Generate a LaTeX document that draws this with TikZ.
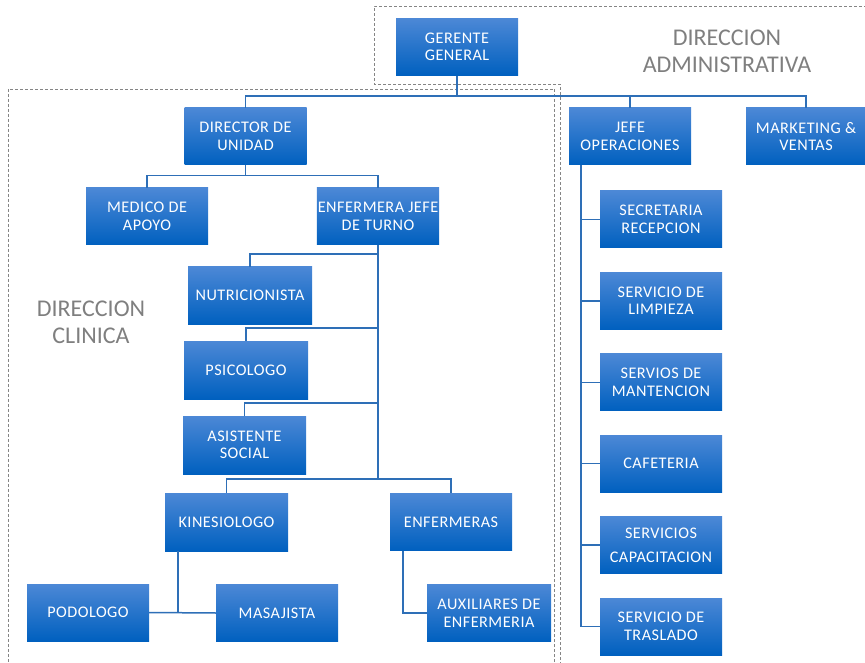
\documentclass[tikz,border=0pt]{standalone}
\usepackage{fontspec}
\setmainfont{Carlito}
\newfontfamily\boxfont[LetterSpace=3]{Carlito}
\usetikzlibrary{positioning, calc}
\definecolor{ctop}{HTML}{4C88D6}
\definecolor{cbot}{HTML}{0060BF}
\definecolor{cline}{HTML}{2E6FB7}
\definecolor{cgrey}{HTML}{7F7F7F}
\definecolor{cdash}{HTML}{858585}
\tikzset{
  every picture/.style={x=1pt, y=-1pt},
  box/.style={top color=ctop, bottom color=cbot, text=white, align=center, inner sep=1pt,
    minimum width=122pt, minimum height=57pt, font=\boxfont\fontsize{16.2}{17.5}\selectfont},
  link/.style={draw=cline, line width=1.5pt},
  area/.style={draw=cdash, line width=0.9pt, dash pattern=on 3pt off 2pt},
  title/.style={text=cgrey, align=center, font=\fontsize{24}{27}\selectfont},
}

\begin{document}
\begin{tikzpicture}
  \useasboundingbox (0,0) rectangle (865,663);
  \clip (0,0) rectangle (865,663);
  % dashed areas
  \draw[area] (8.5,89) rectangle (554.5,680);
  \draw[area] (560,680) -- (560,84) -- (374,84) -- (374,6) -- (880,6);

  \node[box] (ger) at (457,47) {GERENTE\\GENERAL};
  \node[title] (admin) at (727,51) {DIRECCION\\ADMINISTRATIVA};
  \node[box] (dir) at (245.5,136.5) {DIRECTOR DE\\UNIDAD};
  \node[box] (jefe) at (630,136.5) {JEFE\\OPERACIONES};
  \node[box, minimum width=120pt] (mkt) at (806,136.5) {MARKETING \&\\VENTAS};

  % direccion clinica
  \node[box] (med) at (147,216.5) {MEDICO DE\\APOYO};
  \node[box] (enfj) at (378,216.5) {ENFERMERA JEFE\\DE TURNO};
  \node[box, minimum width=124pt] (nut) at (250,295.5) {NUTRICIONISTA};
  \node[box, minimum width=124pt, minimum height=58pt] (psi) at (246,370) {PSICOLOGO};
  \node[box, minimum width=123pt, minimum height=58pt] (asi) at (244.5,445) {ASISTENTE\\SOCIAL};
  \node[title] (clin) at (91,322) {DIRECCION\\CLINICA};
  \node[box, minimum width=123pt, minimum height=58pt] (kin) at (226.5,522) {KINESIOLOGO};
  \node[box] (enfs) at (451,522) {ENFERMERAS};
  \node[box] (pod) at (88,612.5) {PODOLOGO};
  \node[box] (mas) at (277,613) {MASAJISTA};
  \node[box, minimum width=124pt] (aux) at (489,613) {AUXILIARES DE\\ENFERMERIA};

  % operaciones
  \node[box] (sec) at (661,219.5) {SECRETARIA\\RECEPCION};
  \node[box, below=24pt of sec] (limp) {SERVICIO DE\\LIMPIEZA};
  \node[box, below=24pt of limp] (mant) {SERVIOS DE\\MANTENCION};
  \node[box, below=24pt of mant] (caf) {CAFETERIA};
  \node[box, below=24pt of caf] (cap) {SERVICIOS\\[6pt]CAPACITACION};
  \node[box, below=24pt of cap] (tras) {SERVICIO DE\\TRASLADO};

  % connectors
  \coordinate (top) at (457,96);
  \draw[link] (ger) -- (top);
  \draw[link] (dir.north) |- (top) -| (mkt.north);
  \draw[link] (jefe.north) |- (top);
  \draw[link] (dir) -- ++(0,39) coordinate (dirb);
  \draw[link] (med.north) |- (dirb) -| (enfj.north);
  \foreach \n in {nut,psi,asi} \draw[link] (\n.north) -- ++(0,-13) -| (enfj.south);
  \draw[link] (kin.north) -- ++(0,-14) coordinate (kb) -| (enfs.north);
  \draw[link] (enfj.south) -- (enfj.south |- kb);
  \coordinate (kx) at ($(kin.south west)+(13,0)$);
  \draw[link] (pod.east) -- (mas.west);
  \draw[link] (kx) -- (kx |- pod.east);
  \draw[link] ($(enfs.south west)+(13,0)$) |- (aux.west);
  \coordinate (jx) at ($(jefe.south west)+(12,0)$);
  \draw[link] (jx) |- (tras.west);
  \foreach \n in {sec,limp,mant,caf,cap} \draw[link] (jx |- \n.west) -- (\n.west);
\end{tikzpicture}
\end{document}
